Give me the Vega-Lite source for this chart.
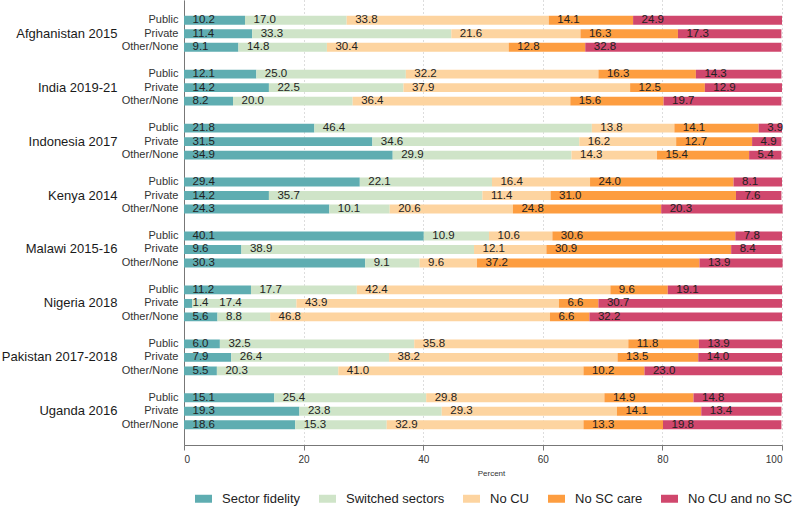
{
  "$schema": "https://vega.github.io/schema/vega-lite/v6.json",
  "width": 598,
  "height": 445,
  "autosize": {"type": "none"},
  "padding": {"left": 184, "top": 0, "right": 14, "bottom": 61},
  "background": "white",
  "config": {
    "view": {"stroke": null},
    "font": "Liberation Sans",
    "axis": {"labelFont": "Liberation Sans", "titleFont": "Liberation Sans"}
  },
  "data": {
    "values": [
      {"country": "Afghanistan 2015", "sector": "Public", "category": "Sector fidelity", "value": 10.2},
      {"country": "Afghanistan 2015", "sector": "Public", "category": "Switched sectors", "value": 17.0},
      {"country": "Afghanistan 2015", "sector": "Public", "category": "No CU", "value": 33.8},
      {"country": "Afghanistan 2015", "sector": "Public", "category": "No SC care", "value": 14.1},
      {"country": "Afghanistan 2015", "sector": "Public", "category": "No CU and no SC", "value": 24.9},
      {"country": "Afghanistan 2015", "sector": "Private", "category": "Sector fidelity", "value": 11.4},
      {"country": "Afghanistan 2015", "sector": "Private", "category": "Switched sectors", "value": 33.3},
      {"country": "Afghanistan 2015", "sector": "Private", "category": "No CU", "value": 21.6},
      {"country": "Afghanistan 2015", "sector": "Private", "category": "No SC care", "value": 16.3},
      {"country": "Afghanistan 2015", "sector": "Private", "category": "No CU and no SC", "value": 17.3},
      {"country": "Afghanistan 2015", "sector": "Other/None", "category": "Sector fidelity", "value": 9.1},
      {"country": "Afghanistan 2015", "sector": "Other/None", "category": "Switched sectors", "value": 14.8},
      {"country": "Afghanistan 2015", "sector": "Other/None", "category": "No CU", "value": 30.4},
      {"country": "Afghanistan 2015", "sector": "Other/None", "category": "No SC care", "value": 12.8},
      {"country": "Afghanistan 2015", "sector": "Other/None", "category": "No CU and no SC", "value": 32.8},
      {"country": "India 2019-21", "sector": "Public", "category": "Sector fidelity", "value": 12.1},
      {"country": "India 2019-21", "sector": "Public", "category": "Switched sectors", "value": 25.0},
      {"country": "India 2019-21", "sector": "Public", "category": "No CU", "value": 32.2},
      {"country": "India 2019-21", "sector": "Public", "category": "No SC care", "value": 16.3},
      {"country": "India 2019-21", "sector": "Public", "category": "No CU and no SC", "value": 14.3},
      {"country": "India 2019-21", "sector": "Private", "category": "Sector fidelity", "value": 14.2},
      {"country": "India 2019-21", "sector": "Private", "category": "Switched sectors", "value": 22.5},
      {"country": "India 2019-21", "sector": "Private", "category": "No CU", "value": 37.9},
      {"country": "India 2019-21", "sector": "Private", "category": "No SC care", "value": 12.5},
      {"country": "India 2019-21", "sector": "Private", "category": "No CU and no SC", "value": 12.9},
      {"country": "India 2019-21", "sector": "Other/None", "category": "Sector fidelity", "value": 8.2},
      {"country": "India 2019-21", "sector": "Other/None", "category": "Switched sectors", "value": 20.0},
      {"country": "India 2019-21", "sector": "Other/None", "category": "No CU", "value": 36.4},
      {"country": "India 2019-21", "sector": "Other/None", "category": "No SC care", "value": 15.6},
      {"country": "India 2019-21", "sector": "Other/None", "category": "No CU and no SC", "value": 19.7},
      {"country": "Indonesia 2017", "sector": "Public", "category": "Sector fidelity", "value": 21.8},
      {"country": "Indonesia 2017", "sector": "Public", "category": "Switched sectors", "value": 46.4},
      {"country": "Indonesia 2017", "sector": "Public", "category": "No CU", "value": 13.8},
      {"country": "Indonesia 2017", "sector": "Public", "category": "No SC care", "value": 14.1},
      {"country": "Indonesia 2017", "sector": "Public", "category": "No CU and no SC", "value": 3.9},
      {"country": "Indonesia 2017", "sector": "Private", "category": "Sector fidelity", "value": 31.5},
      {"country": "Indonesia 2017", "sector": "Private", "category": "Switched sectors", "value": 34.6},
      {"country": "Indonesia 2017", "sector": "Private", "category": "No CU", "value": 16.2},
      {"country": "Indonesia 2017", "sector": "Private", "category": "No SC care", "value": 12.7},
      {"country": "Indonesia 2017", "sector": "Private", "category": "No CU and no SC", "value": 4.9},
      {"country": "Indonesia 2017", "sector": "Other/None", "category": "Sector fidelity", "value": 34.9},
      {"country": "Indonesia 2017", "sector": "Other/None", "category": "Switched sectors", "value": 29.9},
      {"country": "Indonesia 2017", "sector": "Other/None", "category": "No CU", "value": 14.3},
      {"country": "Indonesia 2017", "sector": "Other/None", "category": "No SC care", "value": 15.4},
      {"country": "Indonesia 2017", "sector": "Other/None", "category": "No CU and no SC", "value": 5.4},
      {"country": "Kenya 2014", "sector": "Public", "category": "Sector fidelity", "value": 29.4},
      {"country": "Kenya 2014", "sector": "Public", "category": "Switched sectors", "value": 22.1},
      {"country": "Kenya 2014", "sector": "Public", "category": "No CU", "value": 16.4},
      {"country": "Kenya 2014", "sector": "Public", "category": "No SC care", "value": 24.0},
      {"country": "Kenya 2014", "sector": "Public", "category": "No CU and no SC", "value": 8.1},
      {"country": "Kenya 2014", "sector": "Private", "category": "Sector fidelity", "value": 14.2},
      {"country": "Kenya 2014", "sector": "Private", "category": "Switched sectors", "value": 35.7},
      {"country": "Kenya 2014", "sector": "Private", "category": "No CU", "value": 11.4},
      {"country": "Kenya 2014", "sector": "Private", "category": "No SC care", "value": 31.0},
      {"country": "Kenya 2014", "sector": "Private", "category": "No CU and no SC", "value": 7.6},
      {"country": "Kenya 2014", "sector": "Other/None", "category": "Sector fidelity", "value": 24.3},
      {"country": "Kenya 2014", "sector": "Other/None", "category": "Switched sectors", "value": 10.1},
      {"country": "Kenya 2014", "sector": "Other/None", "category": "No CU", "value": 20.6},
      {"country": "Kenya 2014", "sector": "Other/None", "category": "No SC care", "value": 24.8},
      {"country": "Kenya 2014", "sector": "Other/None", "category": "No CU and no SC", "value": 20.3},
      {"country": "Malawi 2015-16", "sector": "Public", "category": "Sector fidelity", "value": 40.1},
      {"country": "Malawi 2015-16", "sector": "Public", "category": "Switched sectors", "value": 10.9},
      {"country": "Malawi 2015-16", "sector": "Public", "category": "No CU", "value": 10.6},
      {"country": "Malawi 2015-16", "sector": "Public", "category": "No SC care", "value": 30.6},
      {"country": "Malawi 2015-16", "sector": "Public", "category": "No CU and no SC", "value": 7.8},
      {"country": "Malawi 2015-16", "sector": "Private", "category": "Sector fidelity", "value": 9.6},
      {"country": "Malawi 2015-16", "sector": "Private", "category": "Switched sectors", "value": 38.9},
      {"country": "Malawi 2015-16", "sector": "Private", "category": "No CU", "value": 12.1},
      {"country": "Malawi 2015-16", "sector": "Private", "category": "No SC care", "value": 30.9},
      {"country": "Malawi 2015-16", "sector": "Private", "category": "No CU and no SC", "value": 8.4},
      {"country": "Malawi 2015-16", "sector": "Other/None", "category": "Sector fidelity", "value": 30.3},
      {"country": "Malawi 2015-16", "sector": "Other/None", "category": "Switched sectors", "value": 9.1},
      {"country": "Malawi 2015-16", "sector": "Other/None", "category": "No CU", "value": 9.6},
      {"country": "Malawi 2015-16", "sector": "Other/None", "category": "No SC care", "value": 37.2},
      {"country": "Malawi 2015-16", "sector": "Other/None", "category": "No CU and no SC", "value": 13.9},
      {"country": "Nigeria 2018", "sector": "Public", "category": "Sector fidelity", "value": 11.2},
      {"country": "Nigeria 2018", "sector": "Public", "category": "Switched sectors", "value": 17.7},
      {"country": "Nigeria 2018", "sector": "Public", "category": "No CU", "value": 42.4},
      {"country": "Nigeria 2018", "sector": "Public", "category": "No SC care", "value": 9.6},
      {"country": "Nigeria 2018", "sector": "Public", "category": "No CU and no SC", "value": 19.1},
      {"country": "Nigeria 2018", "sector": "Private", "category": "Sector fidelity", "value": 1.4},
      {"country": "Nigeria 2018", "sector": "Private", "category": "Switched sectors", "value": 17.4},
      {"country": "Nigeria 2018", "sector": "Private", "category": "No CU", "value": 43.9},
      {"country": "Nigeria 2018", "sector": "Private", "category": "No SC care", "value": 6.6},
      {"country": "Nigeria 2018", "sector": "Private", "category": "No CU and no SC", "value": 30.7},
      {"country": "Nigeria 2018", "sector": "Other/None", "category": "Sector fidelity", "value": 5.6},
      {"country": "Nigeria 2018", "sector": "Other/None", "category": "Switched sectors", "value": 8.8},
      {"country": "Nigeria 2018", "sector": "Other/None", "category": "No CU", "value": 46.8},
      {"country": "Nigeria 2018", "sector": "Other/None", "category": "No SC care", "value": 6.6},
      {"country": "Nigeria 2018", "sector": "Other/None", "category": "No CU and no SC", "value": 32.2},
      {"country": "Pakistan 2017-2018", "sector": "Public", "category": "Sector fidelity", "value": 6.0},
      {"country": "Pakistan 2017-2018", "sector": "Public", "category": "Switched sectors", "value": 32.5},
      {"country": "Pakistan 2017-2018", "sector": "Public", "category": "No CU", "value": 35.8},
      {"country": "Pakistan 2017-2018", "sector": "Public", "category": "No SC care", "value": 11.8},
      {"country": "Pakistan 2017-2018", "sector": "Public", "category": "No CU and no SC", "value": 13.9},
      {"country": "Pakistan 2017-2018", "sector": "Private", "category": "Sector fidelity", "value": 7.9},
      {"country": "Pakistan 2017-2018", "sector": "Private", "category": "Switched sectors", "value": 26.4},
      {"country": "Pakistan 2017-2018", "sector": "Private", "category": "No CU", "value": 38.2},
      {"country": "Pakistan 2017-2018", "sector": "Private", "category": "No SC care", "value": 13.5},
      {"country": "Pakistan 2017-2018", "sector": "Private", "category": "No CU and no SC", "value": 14.0},
      {"country": "Pakistan 2017-2018", "sector": "Other/None", "category": "Sector fidelity", "value": 5.5},
      {"country": "Pakistan 2017-2018", "sector": "Other/None", "category": "Switched sectors", "value": 20.3},
      {"country": "Pakistan 2017-2018", "sector": "Other/None", "category": "No CU", "value": 41.0},
      {"country": "Pakistan 2017-2018", "sector": "Other/None", "category": "No SC care", "value": 10.2},
      {"country": "Pakistan 2017-2018", "sector": "Other/None", "category": "No CU and no SC", "value": 23.0},
      {"country": "Uganda 2016", "sector": "Public", "category": "Sector fidelity", "value": 15.1},
      {"country": "Uganda 2016", "sector": "Public", "category": "Switched sectors", "value": 25.4},
      {"country": "Uganda 2016", "sector": "Public", "category": "No CU", "value": 29.8},
      {"country": "Uganda 2016", "sector": "Public", "category": "No SC care", "value": 14.9},
      {"country": "Uganda 2016", "sector": "Public", "category": "No CU and no SC", "value": 14.8},
      {"country": "Uganda 2016", "sector": "Private", "category": "Sector fidelity", "value": 19.3},
      {"country": "Uganda 2016", "sector": "Private", "category": "Switched sectors", "value": 23.8},
      {"country": "Uganda 2016", "sector": "Private", "category": "No CU", "value": 29.3},
      {"country": "Uganda 2016", "sector": "Private", "category": "No SC care", "value": 14.1},
      {"country": "Uganda 2016", "sector": "Private", "category": "No CU and no SC", "value": 13.4},
      {"country": "Uganda 2016", "sector": "Other/None", "category": "Sector fidelity", "value": 18.6},
      {"country": "Uganda 2016", "sector": "Other/None", "category": "Switched sectors", "value": 15.3},
      {"country": "Uganda 2016", "sector": "Other/None", "category": "No CU", "value": 32.9},
      {"country": "Uganda 2016", "sector": "Other/None", "category": "No SC care", "value": 13.3},
      {"country": "Uganda 2016", "sector": "Other/None", "category": "No CU and no SC", "value": 19.8}
    ]
  },
  "transform": [
    {"calculate": "datum.country + '|' + datum.sector", "as": "key"},
    {"calculate": "indexof(['Sector fidelity', 'Switched sectors', 'No CU', 'No SC care', 'No CU and no SC'], datum.category)", "as": "ord"},
    {"stack": "value", "groupby": ["key"], "sort": [{"field": "ord", "order": "ascending"}], "as": ["x0", "x1"]},
    {"calculate": "datum.key == 'Nigeria 2018|Private' && datum.ord == 1", "as": "nudge"}
  ],
  "layer": [
    {
      "mark": {"type": "bar", "height": {"band": 0.66}},
      "encoding": {
        "y": {
          "field": "key",
          "type": "nominal",
          "title": null,
          "scale": {
            "paddingInner": 0,
            "paddingOuter": 0,
            "domain": [
              "g0",
              "Afghanistan 2015|Public", "Afghanistan 2015|Private", "Afghanistan 2015|Other/None", "g1",
              "India 2019-21|Public", "India 2019-21|Private", "India 2019-21|Other/None", "g2",
              "Indonesia 2017|Public", "Indonesia 2017|Private", "Indonesia 2017|Other/None", "g3",
              "Kenya 2014|Public", "Kenya 2014|Private", "Kenya 2014|Other/None", "g4",
              "Malawi 2015-16|Public", "Malawi 2015-16|Private", "Malawi 2015-16|Other/None", "g5",
              "Nigeria 2018|Public", "Nigeria 2018|Private", "Nigeria 2018|Other/None", "g6",
              "Pakistan 2017-2018|Public", "Pakistan 2017-2018|Private", "Pakistan 2017-2018|Other/None", "g7",
              "Uganda 2016|Public", "Uganda 2016|Private", "Uganda 2016|Other/None", "g8"
            ]
          },
          "axis": {
            "orient": "left",
            "labelExpr": "indexof(datum.value, '|') > 0 ? split(datum.value, '|')[1] : ''",
            "labelFontSize": 11,
            "labelColor": "#333",
            "labelPadding": 6,
            "labelOverlap": false,
            "ticks": false,
            "domainColor": "#777",
            "grid": false
          }
        },
        "x": {
          "field": "x0",
          "type": "quantitative",
          "title": "Percent",
          "scale": {"domain": [0, 100], "nice": false},
          "axis": {
            "values": [0, 20, 40, 60, 80, 100],
            "grid": true,
            "gridDash": [1, 3],
            "gridColor": "#bbb",
            "domainColor": "#777",
            "tickColor": "#777",
            "tickSize": 5,
            "labelFontSize": 10,
            "labelColor": "#333",
            "labelPadding": 4,
            "titleFontSize": 8,
            "titleFontWeight": "normal",
            "titleColor": "#333",
            "titlePadding": 5,
            "titleX": 307
          }
        },
        "x2": {"field": "x1"},
        "color": {
          "field": "category",
          "type": "nominal",
          "scale": {
            "domain": ["Sector fidelity", "Switched sectors", "No CU", "No SC care", "No CU and no SC"],
            "range": ["#5fadb1", "#cfe4c8", "#fdd4a0", "#fd9d40", "#d0476d"]
          },
          "legend": {
            "orient": "none",
            "legendX": 11,
            "legendY": 490,
            "direction": "horizontal",
            "title": null,
            "symbolType": "M-1,-0.47H1V0.47H-1Z",
            "symbolSize": 289,
            "symbolStrokeWidth": 0,
            "symbolOpacity": 1,
            "labelFont": "Liberation Sans",
            "labelFontSize": 13,
            "labelColor": "#222",
            "labelOffset": 10,
            "columnPadding": 18
          }
        },
        "order": {"field": "ord"}
      }
    },
    {
      "transform": [{"filter": "!datum.nudge"}],
      "mark": {"type": "text", "align": "left", "baseline": "middle", "dx": 8.5, "font": "Liberation Sans", "fontSize": 11.5, "color": "#222"},
      "encoding": {
        "y": {
          "field": "key",
          "type": "nominal",
          "title": null,
          "axis": {
            "orient": "left",
            "labelExpr": "indexof(datum.value, '|Private') > 0 ? split(datum.value, '|')[0] : ''",
            "labelFont": "Liberation Sans",
            "labelFontSize": 13,
            "labelColor": "#1a1a1a",
            "labelPadding": 67,
            "labelOverlap": false,
            "labelBound": false,
            "ticks": false,
            "domain": false,
            "grid": false
          }
        },
        "x": {"field": "x0", "type": "quantitative", "title": "Percent"},
        "text": {"field": "value", "type": "quantitative", "format": ".1f"}
      }
    },
    {
      "transform": [{"filter": "datum.nudge"}],
      "mark": {"type": "text", "align": "left", "baseline": "middle", "dx": 27, "font": "Liberation Sans", "fontSize": 11.5, "color": "#222"},
      "encoding": {
        "y": {"field": "key", "type": "nominal", "title": null, "axis": null},
        "x": {"field": "x0", "type": "quantitative", "title": "Percent"},
        "text": {"field": "value", "type": "quantitative", "format": ".1f"}
      }
    }
  ],
  "resolve": {"axis": {"y": "independent"}}
}
